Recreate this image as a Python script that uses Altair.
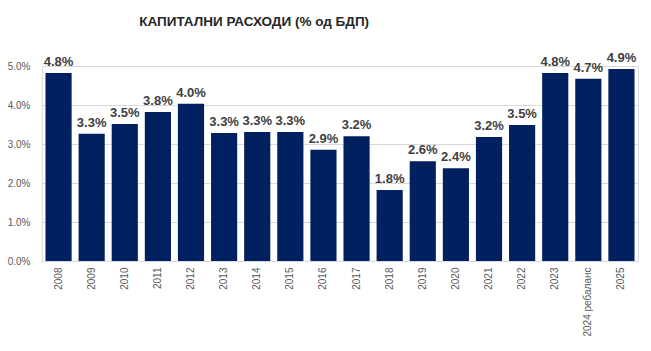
import altair as alt
import pandas as pd

years = ["2008", "2009", "2010", "2011", "2012", "2013", "2014", "2015", "2016",
         "2017", "2018", "2019", "2020", "2021", "2022", "2023", "2024 ребаланс", "2025"]
values = [4.82, 3.26, 3.51, 3.82, 4.03, 3.28, 3.31, 3.31, 2.85,
          3.20, 1.82, 2.56, 2.38, 3.18, 3.49, 4.82, 4.67, 4.92]

df = pd.DataFrame({"year": years, "value": [v / 100 for v in values]})

x = alt.X("year:N", sort=years, title=None,
          scale=alt.Scale(paddingInner=0.21, paddingOuter=0.105),
          axis=alt.Axis(labelAngle=-90, labelFont="Liberation Sans", labelFontSize=10,
                        labelColor="#595959", ticks=False, domainColor="#d9d9d9",
                        labelPadding=6))
y = alt.Y("value:Q", title=None,
          scale=alt.Scale(domain=[0, 0.05], clamp=False, nice=False),
          axis=alt.Axis(format=".1%", values=[0, 0.01, 0.02, 0.03, 0.04, 0.05],
                        labelFont="Liberation Sans", labelFontSize=10, labelColor="#595959",
                        domain=False, ticks=False, gridColor="#d9d9d9", labelPadding=12))

base = alt.Chart(df).encode(x=x, y=y)
bars = base.mark_bar(color="#002060", clip=False)
labels = base.mark_text(dy=-11, fontWeight="bold", fontSize=13, color="#404040",
                        font="Liberation Sans", clip=False).encode(
    text=alt.Text("value:Q", format=".1%"))

chart = (bars + labels).properties(
    width=596, height=195,
    title=alt.TitleParams("КАПИТАЛНИ РАСХОДИ (% од БДП)", fontSize=13.5, fontWeight="bold",
                          font="Liberation Sans", color="#262626",
                          anchor="start", dx=132, offset=24),
    autosize=alt.AutoSizeParams(type="none"),
    padding={"left": 42, "top": 66, "right": 13, "bottom": 90},
).configure_view(stroke=None).configure(background="white")

chart.save("out.html", embed_options={"renderer": "svg", "actions": False})
